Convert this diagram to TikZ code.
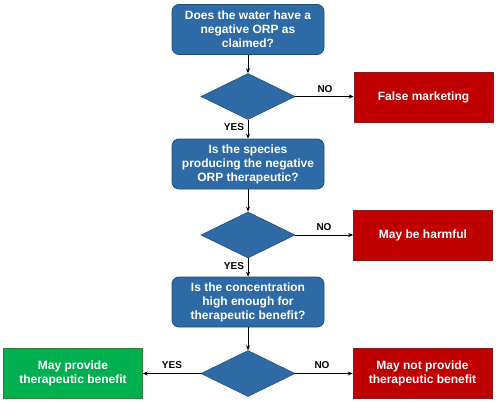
\documentclass[tikz,border=0pt]{standalone}
\usepackage{fontspec}
\setmainfont{Liberation Sans}
\usetikzlibrary{shapes.geometric,arrows.meta}
\definecolor{qblue}{HTML}{2E6AA5}
\definecolor{qblueline}{HTML}{1F4E79}
\definecolor{nred}{HTML}{C00000}
\definecolor{nredline}{HTML}{8B1A1A}
\definecolor{ygreen}{HTML}{00B050}
\definecolor{ygreenline}{HTML}{2E7D32}
\begin{document}
\begin{tikzpicture}[x=1pt,y=-1pt,
  qbox/.style={draw=qblueline,line width=0.8pt,fill=qblue,rounded corners=7pt,minimum width=152pt,minimum height=50pt,align=center,text=white,font=\fontsize{12}{14}\selectfont\bfseries,inner sep=0pt},
  dec/.style={diamond,draw=qblueline,line width=0.6pt,fill=qblue,minimum width=94pt,minimum height=46pt,inner sep=0pt},
  nobox/.style={draw=nredline,line width=0.6pt,fill=nred,minimum width=139pt,minimum height=50pt,align=center,text=white,font=\fontsize{12}{14}\selectfont\bfseries,inner sep=0pt},
  yesbox/.style={nobox,draw=ygreenline,fill=ygreen},
  lbl/.style={font=\fontsize{10}{12}\selectfont\bfseries,inner sep=0pt},
  arr/.style={draw=black,line width=0.8pt,-{Stealth[length=5pt,width=4pt]}}
]
\useasboundingbox (0,0) rectangle (498,402);
\node[qbox] (q1) at (248,29.5) {Does the water have a\\negative ORP as\\claimed?};
\node[dec] (d1) at (248,96.5) {};
\node[nobox] (r1) at (423.5,97.5) {False marketing};
\node[qbox] (q2) at (248,164) {Is the species\\producing the negative\\ORP therapeutic?};
\node[dec] (d2) at (248,235) {};
\node[nobox] (r2) at (423,235.5) {May be harmful};
\node[qbox] (q3) at (248,302) {Is the concentration\\high enough for\\therapeutic benefit?};
\node[dec] (d3) at (248,373.5) {};
\node[yesbox] (g3) at (73,373) {May provide\\therapeutic benefit};
\node[nobox] (r3) at (422.5,373) {May not provide\\therapeutic benefit};

\draw[arr] (q1) -- (d1);
\draw[arr] (d1) -- (q2);
\draw[arr] (q2) -- (d2);
\draw[arr] (d2) -- (q3);
\draw[arr] (q3) -- (d3);
\draw[arr] (d1.east) -- (d1.east -| r1.west);
\draw[arr] (d2.east) -- (d2.east -| r2.west);
\draw[arr] (d3.east) -- (d3.east -| r3.west);
\draw[arr] (d3.west) -- (d3.west -| g3.east);

\node[lbl] (n1) at (325,89) {NO};
\node[lbl] (n2) at (324,227) {NO};
\node[lbl] (n3) at (322,365) {NO};
\node[lbl] (y1) at (234,127) {YES};
\node[lbl] (y2) at (234,266) {YES};
\node[lbl] (y3) at (172,365) {YES};
\end{tikzpicture}
\end{document}
